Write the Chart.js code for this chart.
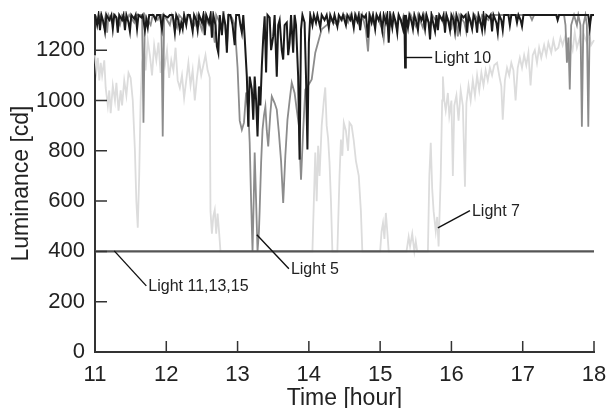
<!DOCTYPE html>
<html>
<head>
<meta charset="utf-8">
<script src="https://cdn.jsdelivr.net/npm/chart.js@4.4.1/dist/chart.umd.min.js"></script>
<style>
  body { margin: 0; background: #fff; }
  #wrap { width: 609px; height: 408px; }
</style>
</head>
<body>
<div id="wrap"><canvas id="chart"></canvas></div>
<script>
// values (time in hours, luminance in cd)
const xTicks = [11, 12, 13, 14, 15, 16, 17, 18];
const yTicks = [0, 200, 400, 600, 800, 1000, 1200];

const light10Time = [11.00,11.03,11.05,11.07,11.09,11.12,11.14,11.16,11.20,11.23,11.25,11.27,11.30,11.32,11.34,11.38,11.40,11.42,11.44,11.47,11.49,11.51,11.55,11.57,11.59,11.61,11.65,11.67,11.70,11.72,11.74,11.76,11.82,11.85,11.87,11.91,11.94,11.96,12.02,12.05,12.09,12.12,12.14,12.17,12.19,12.21,12.23,12.25,12.28,12.30,12.33,12.37,12.39,12.42,12.44,12.46,12.50,12.52,12.54,12.56,12.60,12.62,12.64,12.66,12.69,12.71,12.73,12.75,12.78,12.80,12.83,12.85,12.87,12.90,12.93,12.96,12.98,13.02,13.04,13.06,13.08,13.10,13.13,13.15,13.17,13.20,13.22,13.24,13.26,13.28,13.30,13.32,13.34,13.36,13.38,13.40,13.42,13.45,13.47,13.50,13.52,13.55,13.57,13.59,13.62,13.64,13.66,13.69,13.71,13.73,13.75,13.78,13.80,13.82,13.85,13.87,13.89,13.91,13.94,13.96,13.98,14.00,14.02,14.05,14.07,14.10,14.12,14.16,14.18,14.22,14.25,14.28,14.30,14.34,14.36,14.40,14.42,14.46,14.48,14.52,14.54,14.58,14.60,14.63,14.65,14.68,14.70,14.72,14.74,14.78,14.80,14.83,14.85,14.88,14.90,14.93,14.95,14.98,15.00,15.03,15.05,15.08,15.10,15.12,15.14,15.17,15.19,15.22,15.24,15.26,15.29,15.32,15.34,15.35,15.36,15.39,15.41,15.44,15.46,15.48,15.51,15.53,15.55,15.58,15.60,15.63,15.65,15.68,15.70,15.72,15.75,15.77,15.79,15.81,15.83,15.87,15.89,15.91,15.93,15.96,15.98,16.00,16.03,16.05,16.07,16.10,16.12,16.14,16.17,16.20,16.22,16.24,16.27,16.29,16.31,16.34,16.36,16.38,16.41,16.43,16.45,16.47,16.49,16.53,16.55,16.57,16.59,16.63,16.65,16.67,16.70,16.72,16.74,16.80,16.82,16.84,16.90,16.92,16.94,16.97,16.99,17.01,17.47,17.49,17.51,17.92,17.94,17.96,18.00];
const light10Lum = [1340,1300,1340,1280,1340,1310,1275,1340,1320,1340,1285,1340,1330,1270,1340,1320,1340,1280,1340,1310,1275,1340,1325,1340,1285,1340,1330,1340,1280,1320,1290,1340,1340,1320,1340,1340,1285,1340,1330,1340,1340,1270,1340,1320,1280,1310,1285,1340,1300,1340,1340,1275,1340,1320,1280,1340,1310,1340,1260,1340,1310,1340,1250,1340,1300,1215,1190,1340,1260,1340,1300,1190,1340,1340,1300,1220,1340,1340,1300,1270,1340,1250,1095,896,1095,1044,924,1095,1000,857,1056,980,1135,1250,1335,1111,1340,1330,1200,1255,1340,1095,1300,1320,1200,1163,1300,1310,1180,1230,1340,1190,1340,1300,1095,765,1283,1340,1310,1095,805,1230,1340,1300,1340,1310,1340,1290,1340,1320,1340,1290,1340,1310,1340,1295,1340,1320,1340,1300,1340,1320,1340,1290,1340,1315,1340,1280,1340,1330,1340,1250,1340,1310,1340,1285,1340,1320,1340,1280,1340,1310,1340,1230,1340,1290,1340,1310,1270,1340,1320,1285,1340,1131,1340,1290,1340,1315,1285,1340,1310,1280,1340,1320,1340,1285,1340,1310,1243,1340,1300,1275,1340,1280,1340,1320,1340,1270,1340,1310,1280,1340,1320,1275,1340,1310,1280,1340,1330,1340,1270,1340,1310,1285,1340,1320,1270,1340,1310,1280,1340,1290,1340,1330,1340,1275,1340,1310,1270,1340,1320,1280,1340,1340,1300,1340,1340,1310,1340,1320,1295,1340,1340,1320,1340,1340,1290,1340,1340];

const light5Time = [11.00,11.04,11.08,11.12,11.15,11.17,11.19,11.24,11.28,11.35,11.38,11.45,11.48,11.55,11.58,11.66,11.68,11.70,11.78,11.81,11.88,11.91,11.93,11.95,11.97,12.05,12.08,12.15,12.18,12.27,12.31,12.40,12.43,12.50,12.53,12.60,12.63,12.68,12.70,12.78,12.81,12.85,12.88,12.92,12.96,13.00,13.03,13.06,13.09,13.12,13.15,13.17,13.19,13.21,13.23,13.24,13.26,13.28,13.30,13.31,13.33,13.35,13.37,13.39,13.41,13.43,13.46,13.48,13.52,13.55,13.58,13.61,13.64,13.67,13.70,13.73,13.76,13.80,13.83,13.86,13.89,13.92,13.95,13.99,14.04,14.09,14.18,14.25,14.32,14.40,14.45,14.50,14.55,14.58,14.63,14.66,14.72,14.75,14.80,14.83,14.86,14.92,14.95,15.02,15.05,15.08,15.14,15.17,15.23,15.26,15.30,15.33,15.40,15.43,15.50,15.53,15.60,15.63,15.70,15.73,15.80,15.83,15.90,15.93,16.00,16.03,16.07,16.09,16.11,16.18,16.21,16.24,16.30,16.33,16.40,16.43,16.52,16.55,17.10,17.13,17.16,17.58,17.60,17.62,17.64,17.66,17.68,17.72,17.76,17.78,17.81,17.83,17.85,17.88,17.90,17.92,17.94,17.97,18.00];
const light5Lum = [1340,1320,1340,1300,1340,1270,1340,1310,1340,1300,1340,1320,1340,1310,1340,1340,912,1340,1300,1340,1320,1340,1340,857,1340,1300,1340,1290,1340,1310,1340,1300,1340,1280,1340,1300,1340,1230,1340,1290,1340,1215,1340,1330,1300,1130,920,884,912,1032,960,832,600,400,650,793,600,400,480,565,750,884,940,976,880,817,950,1016,990,964,870,760,593,780,924,1000,1071,1030,964,900,685,880,1044,1060,1084,1190,1283,1300,1320,1300,1330,1340,1310,1340,1300,1340,1290,1340,1280,1195,1340,1300,1340,1290,1243,1340,1300,1340,1290,1340,1310,1340,1300,1340,1295,1340,1290,1340,1300,1340,1310,1340,1300,1340,1290,1340,1300,1255,1340,1310,1270,1340,1300,1340,1310,1340,1320,1340,1340,1320,1340,1340,1300,1150,1250,1044,1300,1340,1300,1340,1300,896,1300,1340,1300,896,1310,1340,1340];

const light7Time = [11.00,11.02,11.04,11.06,11.08,11.10,11.13,11.15,11.18,11.20,11.22,11.25,11.28,11.30,11.33,11.36,11.38,11.41,11.44,11.47,11.50,11.53,11.56,11.58,11.60,11.62,11.64,11.66,11.69,11.71,11.74,11.77,11.80,11.83,11.86,11.89,11.92,11.95,11.98,12.01,12.04,12.07,12.10,12.13,12.16,12.19,12.22,12.25,12.28,12.31,12.34,12.37,12.40,12.43,12.46,12.49,12.52,12.55,12.58,12.61,12.62,12.64,12.66,12.68,12.70,12.72,12.74,12.76,14.05,14.08,14.09,14.11,14.13,14.15,14.18,14.21,14.23,14.25,14.27,14.29,14.31,14.33,14.40,14.43,14.45,14.47,14.49,14.52,14.55,14.57,14.60,14.63,14.66,14.70,14.73,14.75,15.00,15.02,15.04,15.06,15.08,15.10,15.12,15.37,15.40,15.42,15.45,15.48,15.50,15.52,15.67,15.69,15.71,15.73,15.75,15.78,15.80,15.82,15.85,15.87,15.88,15.90,15.92,15.95,15.97,16.00,16.02,16.04,16.07,16.10,16.13,16.16,16.19,16.21,16.24,16.27,16.30,16.33,16.36,16.39,16.42,16.45,16.48,16.51,16.54,16.57,16.60,16.64,16.67,16.70,16.72,16.75,16.78,16.81,16.84,16.87,16.90,16.93,16.96,16.99,17.02,17.05,17.08,17.11,17.14,17.17,17.20,17.23,17.26,17.30,17.33,17.36,17.40,17.43,17.46,17.50,17.53,17.56,17.60,17.63,17.66,17.70,17.73,17.76,17.80,17.83,17.86,17.90,17.93,17.96,18.00];
const light7Lum = [1180,1120,1170,1080,1150,1100,1160,1050,980,1040,950,1060,1000,1070,960,1040,980,1080,1020,1110,1090,1000,800,600,494,700,1000,1150,1200,1120,1240,1180,1100,1220,1160,1230,1110,1190,1140,1200,1090,1160,1120,1210,1080,1050,1100,1010,1080,1150,1060,1120,1000,1090,1160,1100,1140,1180,1120,1090,560,470,540,565,470,550,480,400,400,700,793,600,820,700,900,1000,1052,900,850,753,600,400,400,700,845,780,912,880,800,912,900,840,760,700,560,400,400,480,513,450,553,480,400,400,458,420,470,400,440,400,400,700,832,650,560,480,537,420,700,1000,1095,1000,960,1030,940,1000,700,980,1020,920,1040,980,657,990,1060,1000,1080,1020,1100,1040,1110,1060,1120,1080,1130,1100,1140,1150,1100,1056,924,1080,1130,1100,1150,1120,1000,1130,1170,1130,1180,1140,1190,1060,1180,1200,1150,1210,1170,1220,1180,1230,1190,1240,1200,1210,1250,1220,1260,1180,1240,1200,1270,1210,1250,1180,1260,1230,1270,1220,1240];

const light111315Time = [11, 18];
const light111315Lum = [400, 400];

// callouts: [label, from time, from lum, to time, to lum]
const callouts = [
  ['Light 10', 15.35, 1171, 15.73, 1171],
  ['Light 7', 15.81, 494, 16.26, 562],
  ['Light 5', 13.27, 466, 13.72, 331],
  ['Light 11,13,15', 11.27, 402, 11.72, 263]
];

function toPoints(xs, ys) {
  return xs.map((x, i) => ({ x: x, y: ys[i] }));
}

const FONT = "'Liberation Sans', Arial, Helvetica, sans-serif";
const AXIS = '#333333';

// inward tick marks and the text callouts
const extrasPlugin = {
  id: 'extras',
  afterDraw(chart) {
    const ctx = chart.ctx;
    const xs = chart.scales.x;
    const ys = chart.scales.y;
    const area = chart.chartArea;
    ctx.save();
    ctx.strokeStyle = AXIS;
    ctx.lineWidth = 1.5;
    ctx.beginPath();
    yTicks.forEach(v => {
      const py = ys.getPixelForValue(v);
      ctx.moveTo(area.left, py);
      ctx.lineTo(area.left + 12, py);
    });
    xTicks.forEach(v => {
      const px = xs.getPixelForValue(v);
      ctx.moveTo(px, area.bottom);
      ctx.lineTo(px, area.bottom - 11);
    });
    ctx.stroke();

    ctx.strokeStyle = '#111';
    ctx.lineWidth = 1.4;
    ctx.fillStyle = '#222';
    ctx.font = '16px ' + FONT;
    ctx.textAlign = 'left';
    ctx.textBaseline = 'middle';
    callouts.forEach(c => {
      const x1 = xs.getPixelForValue(c[1]), y1 = ys.getPixelForValue(c[2]);
      const x2 = xs.getPixelForValue(c[3]), y2 = ys.getPixelForValue(c[4]);
      ctx.beginPath();
      ctx.moveTo(x1, y1);
      ctx.lineTo(x2, y2);
      ctx.stroke();
      ctx.fillText(c[0], x2 + 2, y2 + 1);
    });
    ctx.restore();
  }
};

new Chart(document.getElementById('chart'), {
  type: 'line',
  data: {
    datasets: [
      {
        label: 'Light 11,13,15',
        data: toPoints(light111315Time, light111315Lum),
        borderColor: '#555555',
        borderWidth: 2.4,
        order: 0
      },
      {
        label: 'Light 10',
        data: toPoints(light10Time, light10Lum),
        borderColor: '#1a1a1a',
        borderWidth: 2,
        order: 1
      },
      {
        label: 'Light 5',
        data: toPoints(light5Time, light5Lum),
        borderColor: '#8c8c8c',
        borderWidth: 1.8,
        order: 2
      },
      {
        label: 'Light 7',
        data: toPoints(light7Time, light7Lum),
        borderColor: '#dcdcdc',
        borderWidth: 1.8,
        order: 3
      }
    ]
  },
  options: {
    responsive: true,
    maintainAspectRatio: false,
    animation: false,
    layout: { autoPadding: false, padding: { top: 15, right: 15, left: 0, bottom: 0 } },
    elements: {
      point: { radius: 0 },
      line: { tension: 0, fill: false }
    },
    datasets: { line: { clip: 4 } },
    plugins: {
      legend: { display: false },
      tooltip: { enabled: false }
    },
    scales: {
      x: {
        type: 'linear',
        min: 11,
        max: 18,
        afterFit(scale) {
          scale.height = 56;
          scale.paddingLeft = 0;
          scale.paddingRight = 0;
        },
        afterBuildTicks(scale) { scale.ticks = xTicks.map(v => ({ value: v })); },
        grid: { display: false, drawTicks: false },
        border: { display: true, color: AXIS, width: 2 },
        ticks: {
          color: '#222',
          padding: 10,
          maxRotation: 0,
          callback: v => String(v),
          font: { family: FONT, size: 22 }
        },
        title: {
          display: true,
          text: 'Time [hour]',
          color: '#222',
          padding: { top: 0, bottom: -4 },
          font: { family: FONT, size: 23 }
        }
      },
      y: {
        min: 0,
        max: 1340,
        afterFit(scale) {
          scale.width = 95;
          scale.paddingTop = 0;
          scale.paddingBottom = 0;
        },
        afterBuildTicks(scale) { scale.ticks = yTicks.map(v => ({ value: v })); },
        grid: { display: false, drawTicks: false },
        border: { display: true, color: AXIS, width: 2 },
        ticks: {
          color: '#222',
          padding: 10,
          callback: v => String(v),
          font: { family: FONT, size: 22 }
        },
        title: {
          display: true,
          text: 'Luminance [cd]',
          color: '#222',
          padding: { top: 8, bottom: 0 },
          font: { family: FONT, size: 23 }
        }
      }
    }
  },
  plugins: [extrasPlugin]
});
</script>
</body>
</html>
